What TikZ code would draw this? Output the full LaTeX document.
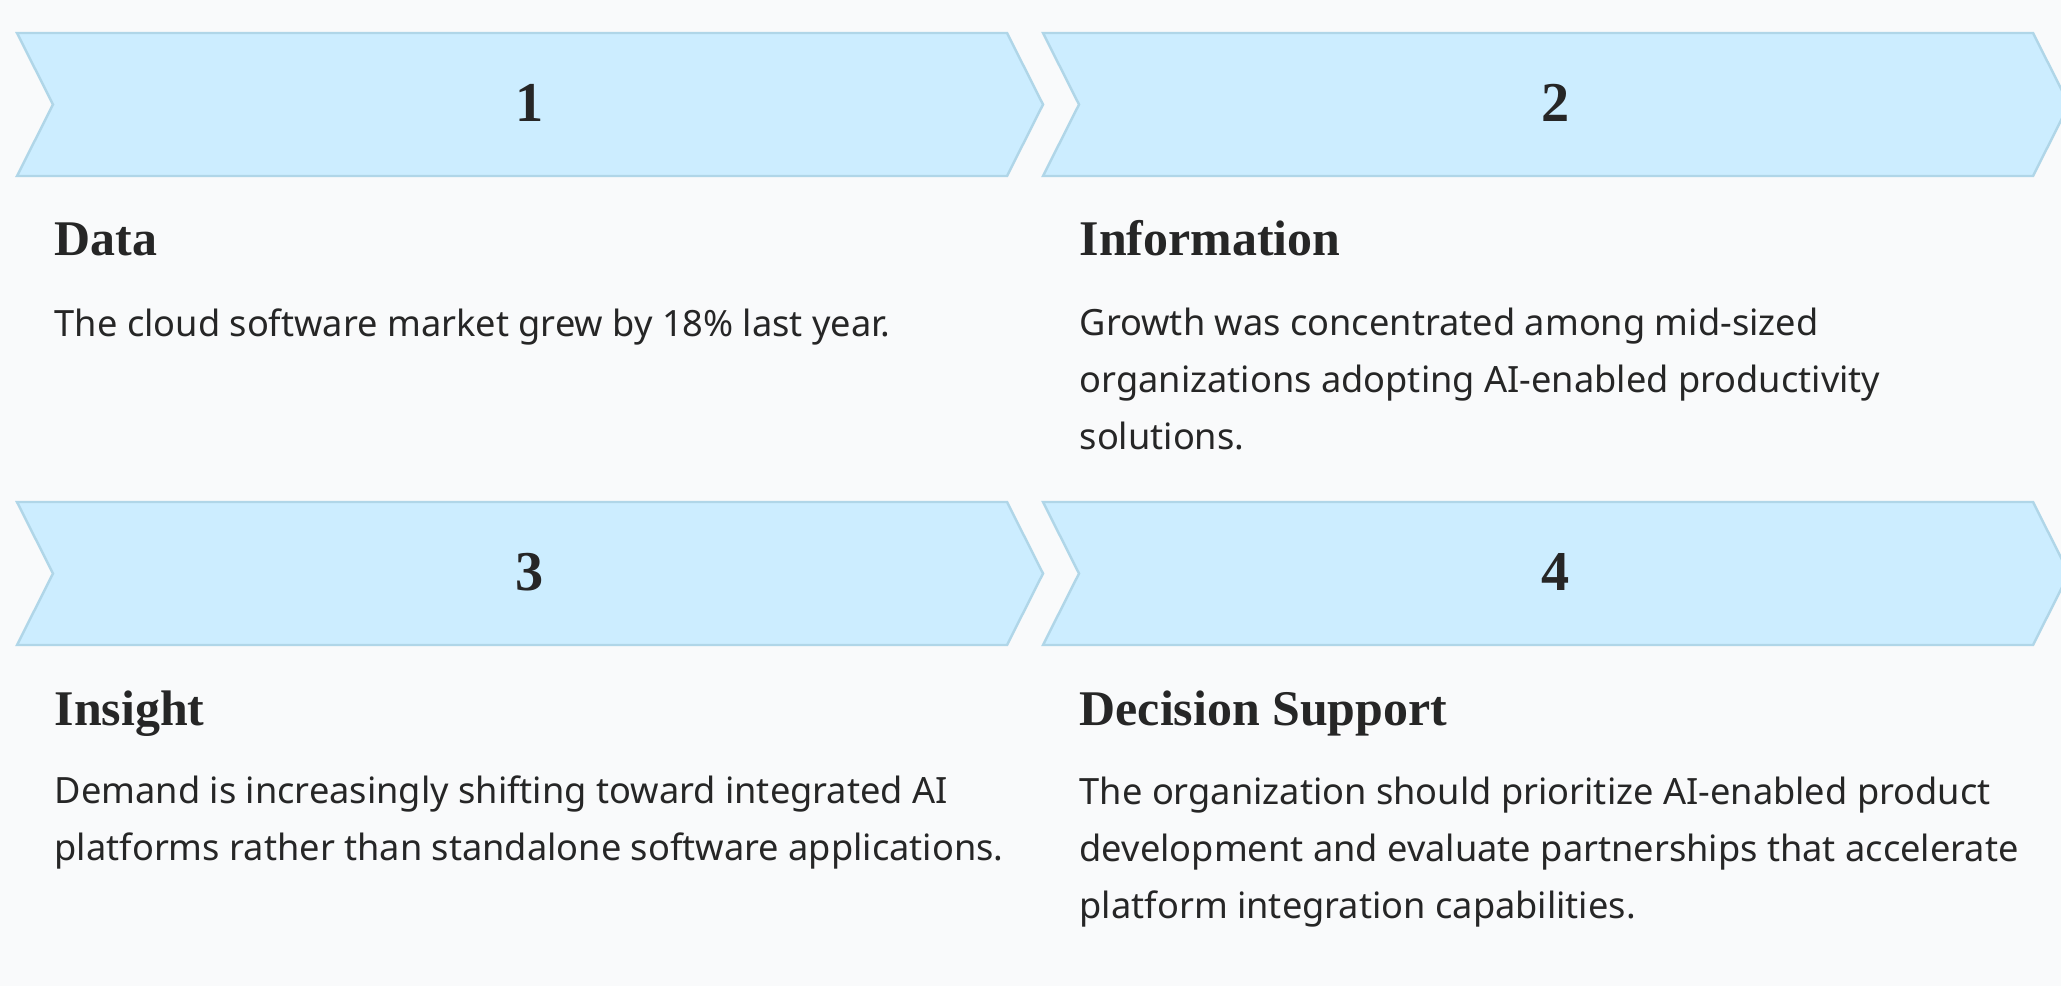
\documentclass[tikz,border=0pt]{standalone}
\usepackage{fontspec}
\setmainfont{Liberation Serif}
\newfontfamily\bodyfont{Noto Sans}
\usepackage{xcolor}
\usepackage{tikz}
\usetikzlibrary{calc}

\definecolor{pagebg}{RGB}{249,250,251}
\definecolor{stepfill}{RGB}{204,237,255}
\definecolor{stepline}{RGB}{176,214,232}
\definecolor{ink}{RGB}{38,38,38}

\tikzset{
  stepshape/.style={fill=stepfill,draw=stepline,line width=0.7pt,line join=miter},
  stepnum/.style={font=\fontsize{16}{16}\selectfont\bfseries,text=ink,anchor=base,inner sep=0pt},
  steptitle/.style={font=\fontsize{14.2}{16}\selectfont\bfseries,text=ink,anchor=base west,inner sep=0pt},
  % base anchor of a multi-line node sits on its last line
  stepbody/.style={font=\bodyfont\fontsize{10.3}{16.1}\selectfont,text=ink,anchor=base west,align=left,inner sep=0pt},
}

\begin{document}
\begin{tikzpicture}
    \fill[pagebg] (0,0) rectangle (20.61,9.86);
    \useasboundingbox (0,0) rectangle (20.61,9.86);

    % four chevrons: left x, top y, number
    \foreach \x/\y/\n in {0.17/9.53/1, 10.43/9.53/2, 0.17/4.84/3, 10.43/4.84/4}{
        \draw[stepshape] (\x,\y) -- ({\x+9.90},\y) -- ({\x+10.26},{\y-0.715})
            -- ({\x+9.90},{\y-1.43}) -- (\x,{\y-1.43}) -- ({\x+0.36},{\y-0.715}) -- cycle;
        \node[stepnum] (num\n) at ({\x+5.13},{\y-0.88}) {\n};
    }

    % titles
    \node[steptitle] (data) at (0.54,7.31) {Data};
    \node[steptitle] (info) at (10.79,7.31) {Information};
    \node[steptitle] (insight) at (0.54,2.61) {Insight};
    \node[steptitle] (decision) at (10.79,2.61) {Decision Support};

    % descriptions (y = baseline of the last line, 0.565 per line)
    \node[stepbody] (datatext) at (0.54,6.50) {The cloud software market grew by 18\% last year.};
    \node[stepbody] (infotext) at (10.79,5.37) {Growth was concentrated among mid-sized\\organizations adopting AI-enabled productivity\\solutions.};
    \node[stepbody] (insighttext) at (0.54,1.26) {Demand is increasingly shifting toward integrated AI\\platforms rather than standalone software applications.};
    \node[stepbody] (decisiontext) at (10.79,0.68) {The organization should prioritize AI-enabled product\\development and evaluate partnerships that accelerate\\platform integration capabilities.};
\end{tikzpicture}
\end{document}
